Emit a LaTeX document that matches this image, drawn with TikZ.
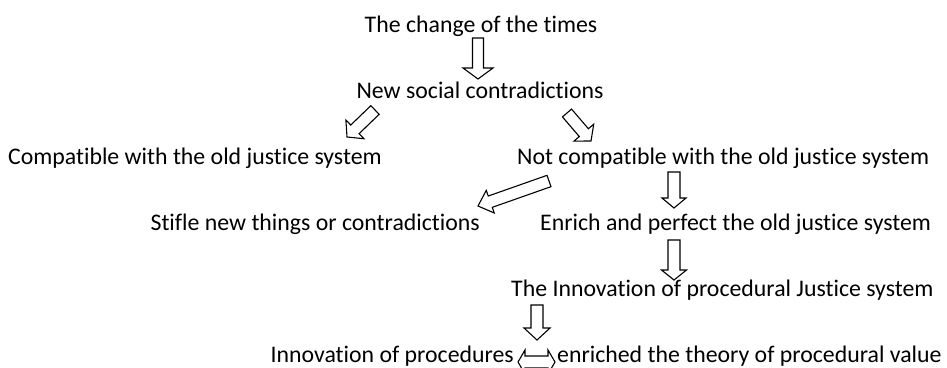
\documentclass[tikz,border=0pt]{standalone}
\usepackage{fontspec}
\setmainfont[Ligatures={NoCommon}]{Carlito}
\usetikzlibrary{calc}
\tikzset{
  lbl/.style={inner sep=0pt, font=\fontsize{23.8}{29}\selectfont},
  blk/.style={draw=black, fill=white, line width=1.1pt, line join=miter},
}
% block arrow: from, to, shaft half width, head half width, head length
\newcommand\blockarr[5]{%
  \coordinate (ba-c) at ($(#2)!#5!(#1)$);
  \draw[blk] ($(#1)!#3!90:(#2)$) -- ($(ba-c)!#3!90:(#2)$) -- ($(ba-c)!#4!90:(#2)$)
    -- (#2) -- ($(ba-c)!#4!-90:(#2)$) -- ($(ba-c)!#3!-90:(#2)$)
    -- ($(#1)!#3!-90:(#2)$) -- cycle;}
\begin{document}
\begin{tikzpicture}[x=1pt,y=-1pt]
\useasboundingbox (0,0) rectangle (947,367);
\clip (0,0) rectangle (947,367);
% texts
\node[lbl, anchor=base] (t1) at (481,32) {The change of the times};
\node[lbl, anchor=base] (t2) at (480,98) {New social contradictions};
\node[lbl, anchor=base west] (t3) at (8,164) {Compatible with the old justice system};
\node[lbl, anchor=base west] (t4) at (517,164) {Not compatible with the old justice system};
\node[lbl, anchor=base east] (t5) at (480,230) {Stifle new things or contradictions};
\node[lbl, anchor=base west] (t6) at (540,230) {Enrich and perfect the old justice system};
\node[lbl, anchor=base west] (t7) at (511,296) {The Innovation of procedural Justice system};
\node[lbl, anchor=base east] (t8) at (514,362) {Innovation of procedures};
\node[lbl, anchor=base west] (t9) at (557,362) {enriched the theory of procedural value};
% arrow ends
\coordinate (a1s) at (478,38);  \coordinate (a1e) at (478,79);
\coordinate (a2s) at (375,110); \coordinate (a2e) at (347,137);
\coordinate (a3s) at (567,113); \coordinate (a3e) at (591,141);
\coordinate (a4s) at (549,181); \coordinate (a4e) at (478,206);
\coordinate (a5s) at (674,172); \coordinate (a5e) at (674,208);
\coordinate (a6s) at (674,240); \coordinate (a6e) at (674,280);
\coordinate (a7s) at (537,305); \coordinate (a7e) at (537,340);
\coordinate (dl) at (518,362);
% arrows
\blockarr{a1s}{a1e}{5.5pt}{15pt}{11pt}
\blockarr{a2s}{a2e}{6pt}{13pt}{11pt}
\blockarr{a3s}{a3e}{6pt}{13pt}{11pt}
\blockarr{a4s}{a4e}{6pt}{12pt}{13pt}
\blockarr{a5s}{a5e}{6pt}{12pt}{10pt}
\blockarr{a6s}{a6e}{6pt}{12.5pt}{10pt}
\blockarr{a7s}{a7e}{6pt}{13pt}{12pt}
\draw[blk] (dl) -- ++(7,-12) -- ++(0,6) -- ++(23,0) -- ++(0,-6) -- ++(7,12)
  -- ++(-7,12) -- ++(0,-6) -- ++(-23,0) -- ++(0,6) -- cycle;
\end{tikzpicture}
\end{document}
